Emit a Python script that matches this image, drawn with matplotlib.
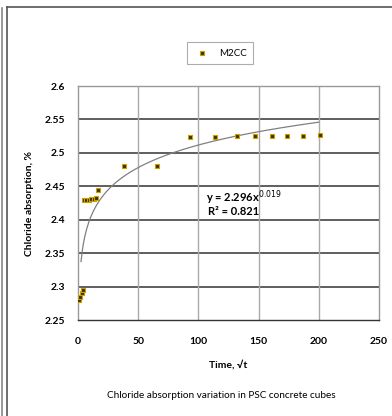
import numpy as np
import matplotlib.pyplot as plt
from matplotlib.lines import Line2D

# --- Dane ---
time_vals = [1, 2, 3, 4, 5, 7, 9, 11, 13, 15, 17, 38, 66, 93, 114, 132, 147, 161, 174, 187, 201]
absorption = [2.280, 2.284, 2.290, 2.295, 2.429, 2.430, 2.430, 2.431, 2.431, 2.432, 2.444,
              2.481, 2.481, 2.524, 2.523, 2.525, 2.525, 2.525, 2.525, 2.525, 2.526]
series_name = "M2CC"

# trend potęgowy y = a*x^b (jak w Excelu)
trend_a, trend_b = 2.296, 0.0195
trend_x_range = (2.5, 200)

plt.rcParams['font.family'] = ['Lato', 'DejaVu Sans']

fig = plt.figure(figsize=(3.92, 4.16), dpi=100)

# ramka dookoła wykresu
fig.add_artist(Line2D([1.5 / 392, 1.5 / 392], [0, 1 - 8 / 416], color='#888888', lw=1.2))
fig.add_artist(Line2D([6.5 / 392, 6.5 / 392], [0, 1 - 7 / 416], color='#555555', lw=1.2))
fig.add_artist(Line2D([6.5 / 392, 1], [1 - 7 / 416, 1 - 7 / 416], color='#555555', lw=1.2))

ax = fig.add_axes([78 / 392, 1 - 320 / 416, 301 / 392, 234 / 416])

ax.scatter(time_vals, absorption, marker='s', s=12, facecolor='#3d3000',
           edgecolor='#c9a100', linewidths=0.8, zorder=3, label=series_name)

x_line = np.linspace(*trend_x_range, 400)
ax.plot(x_line, trend_a * x_line ** trend_b, color='#808080', lw=0.9, zorder=2)

ax.set_xlim(0, 250)
ax.set_ylim(2.25, 2.6)
ax.set_xticks(np.arange(0, 251, 50))
ax.set_yticks(np.arange(2.25, 2.601, 0.05))
ax.set_yticklabels(['2.25', '2.3', '2.35', '2.4', '2.45', '2.5', '2.55', '2.6'])
ax.tick_params(axis='y', length=0, labelsize=7.5, pad=9)
ax.tick_params(axis='x', length=0, labelsize=7.5, pad=12)
for lab in ax.get_xticklabels() + ax.get_yticklabels():
    lab.set_fontweight('bold')

for y in np.arange(2.3, 2.59, 0.05):
    ax.axhline(y, color='#333333', lw=1.1, zorder=1)
for x in [50, 100, 150, 200]:
    ax.axvline(x, color='#aaaaaa', lw=1.0, zorder=1)
for side in ax.spines.values():
    side.set_color('#999999')
    side.set_linewidth(1.0)
ax.spines['bottom'].set_color('#333333')

ax.set_xlabel("Time, √t", fontsize=7.5, fontweight='bold', labelpad=10)
ax.set_ylabel("Chloride absorption, %", fontsize=7.5, fontweight='bold', labelpad=8)

ax.text(106, 2.447, f"y = {trend_a}x$^{{0.019}}$", fontsize=8, fontweight='bold', va='top')
ax.text(108, 2.420, "R² = 0.821", fontsize=8, fontweight='bold', va='top')

leg = ax.legend(loc='center', bbox_to_anchor=((220 - 78) / 301, 1 + 33 / 234), fontsize=7,
                frameon=True, fancybox=False, edgecolor='#999999', handletextpad=0.8,
                borderpad=0.7, handlelength=1.8, markerscale=0.9)
leg.get_frame().set_linewidth(0.8)

fig.text(221 / 392, 1 - 395 / 416, "Chloride absorption variation in PSC concrete cubes",
         ha='center', va='center', fontsize=7.2)

fig.savefig("out.png", dpi=100)
